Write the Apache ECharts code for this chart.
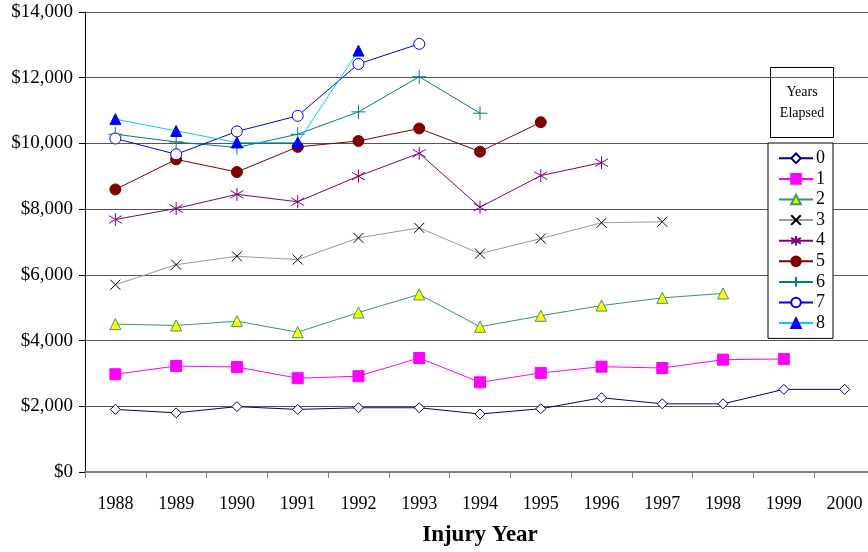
<!DOCTYPE html>
<html>
<head>
<meta charset="utf-8">
<script src="https://cdn.jsdelivr.net/npm/echarts@6/dist/echarts.min.js"></script>
<style>
  html, body { margin: 0; padding: 0; background: #fff; }
  #chart { width: 868px; height: 552px; }
</style>
</head>
<body>
<div id="chart"></div>
<script>
// injury years on the x axis
var years = ['1988', '1989', '1990', '1991', '1992', '1993', '1994', '1995', '1996', '1997', '1998', '1999', '2000'];

// average cost by years elapsed
var elapsed0 = [1905, 1800, 1990, 1905, 1955, 1955, 1765, 1925, 2260, 2075, 2075, 2515, 2515];
var elapsed1 = [2975, 3225, 3195, 2855, 2915, 3470, 2730, 3015, 3205, 3165, 3420, 3440];
var elapsed2 = [4500, 4460, 4590, 4255, 4855, 5405, 4420, 4755, 5065, 5300, 5435];
var elapsed3 = [5700, 6310, 6565, 6465, 7125, 7430, 6645, 7105, 7585, 7615];
var elapsed4 = [7685, 8020, 8450, 8225, 9005, 9700, 8060, 9020, 9415];
var elapsed5 = [8600, 9515, 9130, 9895, 10075, 10455, 9750, 10645];
var elapsed6 = [10280, 10045, 9875, 10280, 10960, 12030, 10920];
var elapsed7 = [10150, 9670, 10365, 10840, 12420, 13030];
var elapsed8 = [10740, 10380, 10030, 10030, 12825];

var yTicks = [0, 2000, 4000, 6000, 8000, 10000, 12000, 14000];

var serif = 'Liberation Serif';
var chart = echarts.init(document.getElementById('chart'));

function mk(name, data, sym, size, fill, border, line) {
    return {
        name: name,
        type: 'line',
        data: data,
        symbol: sym,
        symbolSize: size,
        showAllSymbol: true,
        lineStyle: { color: line, width: 1 },
        itemStyle: { color: fill, borderColor: border, borderWidth: 1 },
        emphasis: { disabled: true }
    };
}

var plusPath = 'path://M5,0L5,10M0,5L10,5';
var xPath = 'path://M0,0L10,10M0,10L10,0';
var starPath = 'path://M5,0L5,10M0.7,2L9.3,8M0.7,8L9.3,2';

chart.setOption({
    animation: false,
    backgroundColor: '#fff',
    grid: { left: 85, top: 12, width: 790, height: 460, outerBoundsMode: 'none', containLabel: false },
    xAxis: {
        type: 'category',
        data: years,
        boundaryGap: true,
        name: 'Injury Year',
        nameLocation: 'middle',
        nameGap: 52,
        nameTextStyle: { fontFamily: serif, fontSize: 23, fontWeight: 'bold', color: '#000' },
        axisLine: { lineStyle: { color: '#808080', width: 2 } },
        axisTick: { show: true, interval: 0, length: 6, lineStyle: { color: '#808080' } },
        axisLabel: { interval: 0, margin: 23, fontFamily: serif, fontSize: 18, color: '#000' },
        splitLine: { show: false }
    },
    yAxis: {
        type: 'value',
        min: yTicks[0],
        max: yTicks[yTicks.length - 1],
        interval: 2000,
        axisLine: { show: true, lineStyle: { color: '#000', width: 1 } },
        axisTick: { show: true, length: 6, lineStyle: { color: '#000' } },
        axisLabel: {
            margin: 12, fontFamily: serif, fontSize: 19, color: '#000',
            formatter: function (v) { return '$' + v.toLocaleString('en-US'); }
        },
        splitLine: { lineStyle: { color: '#555', width: 1 } }
    },
    legend: {
        orient: 'vertical',
        left: 768,
        top: 143,
        padding: [5, 8, 5, 10],
        backgroundColor: '#fff',
        borderColor: '#000',
        borderWidth: 1,
        itemWidth: 34,
        itemHeight: 12,
        itemGap: 0,
        textStyle: { fontFamily: serif, fontSize: 18, color: '#000', lineHeight: 20.6, padding: [0, 0, 0, -2] },
        data: ['0', '1', '2', '3', '4', '5', '6', '7', '8']
    },
    graphic: [{
        type: 'group',
        left: 770,
        top: 67,
        children: [{
            type: 'rect',
            shape: { x: 0, y: 0, width: 63, height: 70 },
            style: { fill: '#fff', stroke: '#000', lineWidth: 1 }
        }, {
            type: 'text',
            x: 31.5,
            y: 35,
            style: {
                text: 'Years\nElapsed',
                font: '14px "Liberation Serif"',
                lineHeight: 21,
                fill: '#000',
                align: 'center',
                verticalAlign: 'middle'
            }
        }]
    }],
    series: [
        mk('0', elapsed0, 'diamond', 10, '#fff', '#000080', '#000080'),
        mk('1', elapsed1, 'rect', 11, '#ff00ff', '#ff00ff', '#ff00ff'),
        mk('2', elapsed2, 'triangle', 11, '#ffff00', '#339966', '#339966'),
        mk('3', elapsed3, xPath, 10, '#000', '#000', '#999999'),
        mk('4', elapsed4, starPath, 13, '#800080', '#800080', '#800080'),
        mk('5', elapsed5, 'circle', 11, '#800000', '#800000', '#800000'),
        mk('6', elapsed6, plusPath, 14, '#008080', '#008080', '#008080'),
        mk('7', elapsed7, 'circle', 11, '#fff', '#0000ff', '#0000ff'),
        mk('8', elapsed8, 'triangle', 11, '#0000ff', '#0000ff', '#00ccff')
    ]
});
</script>
</body>
</html>
